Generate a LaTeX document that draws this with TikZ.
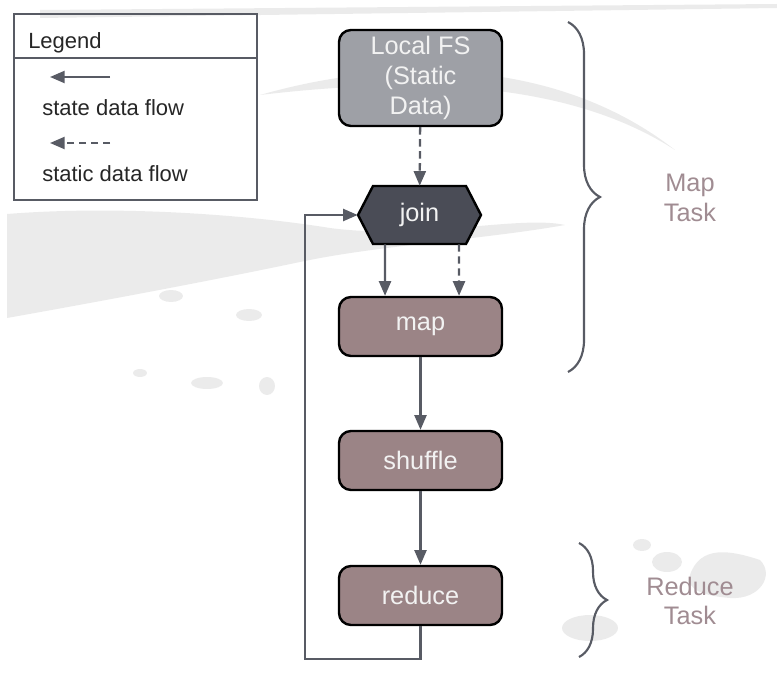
\documentclass[tikz,border=0pt]{standalone}
\usepackage{fontspec}
\setmainfont{Liberation Sans}
\usetikzlibrary{arrows.meta,decorations.pathreplacing}
\definecolor{flowgray}{RGB}{88,91,100}
\definecolor{fsgray}{RGB}{158,160,166}
\definecolor{joingray}{RGB}{74,76,86}
\definecolor{taskmauve}{RGB}{155,132,134}
\definecolor{tasktext}{RGB}{160,140,146}
\definecolor{inkgray}{RGB}{235,235,235}
\tikzset{
	taskbox/.style={draw=black, line width=1.8pt, rounded corners=9pt, fill=taskmauve,
		minimum width=122.25pt, minimum height=44.25pt, text=white!95!black,
		font=\fontsize{19}{22.5}\selectfont, align=center},
	stateflow/.style={draw=flowgray, line width=1.7pt, -{Triangle[length=11pt,width=9pt]}},
	staticflow/.style={stateflow, dash pattern=on 5.5pt off 3.5pt},
	taskbrace/.style={draw=flowgray, line width=1.6pt, decorate,
		decoration={brace, amplitude=#1}},
	bracelabel/.style={text=tasktext, font=\fontsize{19}{22}\selectfont, align=center},
	legendtext/.style={anchor=west, inner sep=0pt, font=\fontsize{16.5}{20}\selectfont, text=black!85}
}

\begin{document}
\begin{tikzpicture}[x=0.75pt,y=0.75pt,yscale=-1,xscale=1]
\useasboundingbox (0,0) rectangle (777,695);

% brush strokes in the background
\fill[inkgray] (7,214) .. controls (120,205) and (250,215) .. (330,228) .. controls (420,240) and (520,215) .. (565,225) .. controls (480,240) and (380,245) .. (300,262) .. controls (200,283) and (80,305) .. (7,318) -- cycle;
\fill[inkgray] (260,95) .. controls (400,55) and (560,60) .. (675,150) .. controls (570,82) and (420,76) .. (260,95) -- cycle;
\fill[inkgray] (40,10) -- (777,4) -- (777,8) -- (40,18) -- cycle;
\fill[inkgray] (642,545) ellipse (9 and 6);
\fill[inkgray] (667,562) ellipse (15 and 10);
\fill[inkgray] (690,575) .. controls (700,545) and (730,550) .. (760,560) .. controls (775,575) and (760,600) .. (730,598) .. controls (705,596) and (685,590) .. (690,575) -- cycle;
\fill[inkgray] (590,628) ellipse (28 and 13);
\fill[inkgray] (171,296) ellipse (12 and 6);
\fill[inkgray] (249,315) ellipse (13 and 6);
\fill[inkgray] (140,373) ellipse (7 and 4);
\fill[inkgray] (207,383) ellipse (16 and 6);
\fill[inkgray] (267,386) ellipse (8 and 9);

% legend
\draw[draw=flowgray, line width=1.6pt] (14,14) rectangle (257,200);
\draw[draw=flowgray, line width=1.6pt] (14,58) -- (257,58);
\node[legendtext] (legend) at (28,43) {Legend};
\coordinate (statefrom) at (110,77);
\coordinate (stateto) at (50,77);
\coordinate (staticfrom) at (110,143);
\coordinate (staticto) at (50,143);
\draw[stateflow] (statefrom) -- (stateto);
\node[legendtext] (statelbl) at (42,108) {state data flow};
\draw[staticflow] (staticfrom) -- (staticto);
\node[legendtext] (staticlbl) at (42,174) {static data flow};

% tasks
\node[taskbox, fill=fsgray, minimum height=72pt] (localfs) at (420.5,78) {Local FS\\(Static\\Data)};
\draw[draw=black, line width=1.8pt, fill=joingray] (358,215) -- (373,186) -- (466,186) -- (481,215) -- (466,244) -- (373,244) -- cycle;
\node[text=white!95!black, font=\fontsize{19}{22.5}\selectfont, minimum width=92.25pt, minimum height=43.5pt, inner sep=0pt] (join) at (419.5,215) {join};
\node[taskbox] (map) at (420.5,326.5) {map};
\node[taskbox] (shuffle) at (420.5,460.5) {shuffle};
\node[taskbox] (reduce) at (420.5,595.5) {reduce};

\draw[staticflow] (localfs) -- (join);
\draw[stateflow] ([xshift=-25.9pt]join.south) -- ([xshift=-26.6pt]map.north);
\draw[staticflow] ([xshift=29.6pt]join.south) -- ([xshift=28.9pt]map.north);
\draw[stateflow] (map) -- (shuffle);
\draw[stateflow] (shuffle) -- (reduce);
\draw[stateflow] (reduce.south) -- ++(0,33) -| ([xshift=-39.75pt]join.west) -- (join.west);

% braces
\draw[taskbrace=24pt] (568,22) -- (568,372);
\node[bracelabel] (maptask) at (690,198) {Map\\Task};
\draw[taskbrace=21pt] (579,543) -- (579,657);
\node[bracelabel] (reducetask) at (690,601) {Reduce\\Task};

\end{tikzpicture}
\end{document}
